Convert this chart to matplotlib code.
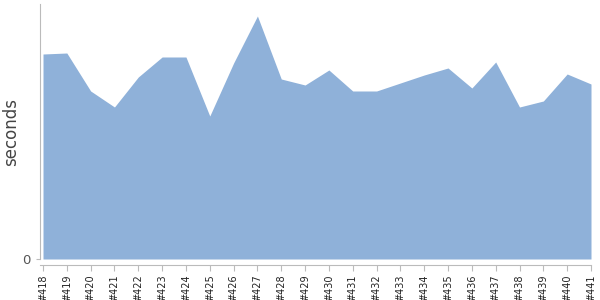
import numpy as np
import matplotlib
matplotlib.use("Agg")
import matplotlib.pyplot as plt

# build numbers and durations (seconds)
builds = ['#418', '#419', '#420', '#421', '#422', '#423', '#424', '#425',
          '#426', '#427', '#428', '#429', '#430', '#431', '#432', '#433',
          '#434', '#435', '#436', '#437', '#438', '#439', '#440', '#441']
seconds = [205, 206, 168, 152, 182, 202, 202, 143,
           196, 243, 180, 174, 189, 168, 168, 176,
           184, 191, 171, 197, 152, 158, 185, 175]

fill_color = '#8fb1d9'
axis_color = '#bbbbbb'

fig = plt.figure(figsize=(6, 3), dpi=100)
ax = fig.add_axes([40 / 600, 41 / 300, 551 / 600, 255 / 300])

x = np.arange(len(builds))
ax.fill_between(x, seconds, 0, color=fill_color, linewidth=0)

ax.set_xlim(-0.126, len(builds) - 1)
ax.set_ylim(0, 255)

for side in ['top', 'right']:
    ax.spines[side].set_visible(False)
ax.spines['left'].set_color(axis_color)
ax.spines['bottom'].set_color(axis_color)
ax.spines['bottom'].set_position(('outward', 4))
ax.tick_params(axis='x', length=4, color=axis_color, pad=3,
               labelrotation=90, labelsize=7, labelcolor='#222222')
ax.tick_params(axis='y', length=3, color=axis_color, pad=4,
               labelsize=9.5, labelcolor='#555555')

ax.set_xticks(x)
ax.set_xticklabels(builds)
ax.set_yticks([0])
ax.set_yticklabels(['0'])
ax.set_ylabel('seconds', fontsize=12, color='#444444')
ax.yaxis.set_label_coords(-0.036, 0.5)

fig.savefig('out.png', dpi=100)
